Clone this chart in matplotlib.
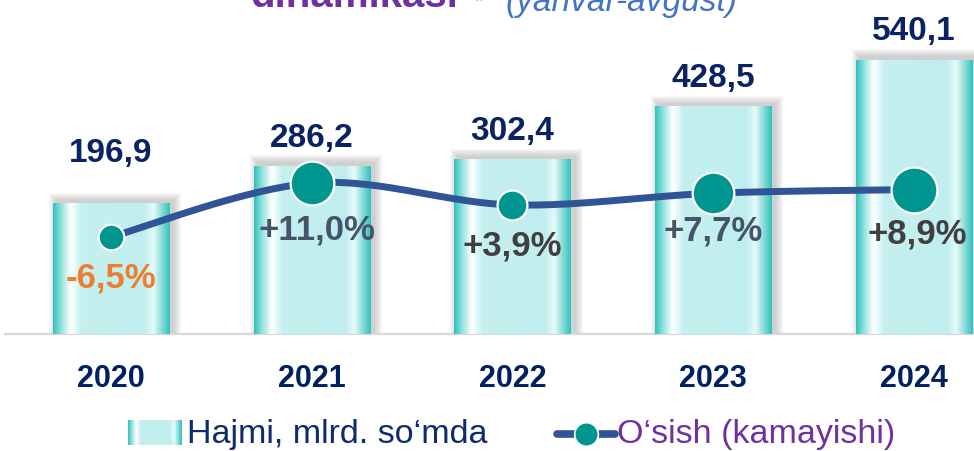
import numpy as np
import matplotlib
matplotlib.use("Agg")
import matplotlib.pyplot as plt
from matplotlib.colors import LinearSegmentedColormap
from matplotlib.patches import Rectangle
from matplotlib.lines import Line2D
from matplotlib.transforms import IdentityTransform

# data
years = ["2020", "2021", "2022", "2023", "2024"]
hajmi = [196.9, 286.2, 302.4, 428.5, 540.1]          # mlrd. so'm
hajmi_labels = ["196,9", "286,2", "302,4", "428,5", "540,1"]
osish = [-6.5, 11.0, 3.9, 7.7, 8.9]                  # %
osish_labels = ["-6,5%", "+11,0%", "+3,9%", "+7,7%", "+8,9%"]

# styles
marker_sizes = [18.5, 31.5, 21.5, 30, 33]
pct_colors = ["#ED7D31", "#44546A", "#404040", "#44546A", "#404040"]
pct_offsets = [29, 33, 29, 26.5, 31]
pct_dx = [0, 4, 0, 0, 2]
val_offsets = [37, 21, 21, 21, 21]
NAVY = "#0B2263"
TEAL = "#00968F"
LINE = "#2F5597"
PURPLE = "#7030A0"

plt.rcParams["font.family"] = ["Liberation Sans", "DejaVu Sans"]

W, H = 974, 452
fig = plt.figure(figsize=(W / 100, H / 100), dpi=100)
ax = fig.add_axes([5 / W, 117 / H, 969 / W, 335 / H])
ax2 = ax.twinx()

x = np.arange(len(years))
bw = 0.58
ymin = -114
ax.set_xlim(-0.528, 4.299)
ax.set_ylim(ymin, 686)
ax2.set_ylim(-38.1, 70.9)

grad_cmap = LinearSegmentedColormap.from_list("bar", [
    (0.00, "#2EC2BE"), (0.06, "#86DEDB"), (0.15, "#FFFFFF"), (0.24, "#C6F0F0"),
    (0.78, "#C0EEEE"), (0.86, "#E6FAFA"), (0.94, "#7ED8D5"), (1.00, "#30C2BE")])
grad = np.linspace(0, 1, 256)[None, :]

# bars: shadow + gradient fill
for i, v in zip(x, hajmi):
    px0, py0 = ax.transData.transform((i - bw / 2, ymin))
    px1, py1 = ax.transData.transform((i + bw / 2, v))
    for r in range(1, 9):
        ax.add_patch(Rectangle((px0 + 4 - r, py0 - r), px1 - px0 + 2 * r, py1 - py0 + 3 + 2 * r,
                               transform=IdentityTransform(), fc="#7F7F7F", alpha=0.05,
                               lw=0, zorder=2))
    ax.imshow(grad, extent=(i - bw / 2, i + bw / 2, ymin, v), aspect="auto",
              cmap=grad_cmap, interpolation="bilinear", zorder=3)

for i, v, lab, off in zip(x, hajmi, hajmi_labels, val_offsets):
    ax.annotate(lab, (i, v), xytext=(0, off), textcoords="offset points",
                ha="center", va="center", fontsize=24, fontweight="bold", color=NAVY)

ax.set_xlim(-0.528, 4.299)
ax.set_ylim(ymin, 686)


# smoothed line (Catmull-Rom through the points)
def smooth(xs, ys, n=40):
    pts = np.column_stack([xs, ys]).astype(float)
    pad = np.vstack([pts[0], pts, pts[-1]])
    t = np.linspace(0, 1, n)[:, None]
    segs = []
    for k in range(len(pts) - 1):
        p0, p1, p2, p3 = pad[k:k + 4]
        segs.append(0.5 * (2 * p1 + (p2 - p0) * t + (2 * p0 - 5 * p1 + 4 * p2 - p3) * t ** 2
                           + (3 * p1 - p0 - 3 * p2 + p3) * t ** 3))
    c = np.vstack(segs)
    return c[:, 0], c[:, 1]


sx, sy = smooth(x, osish)
ax2.plot(sx, sy, color=LINE, lw=5, solid_capstyle="round", zorder=4)
for i, o, ms in zip(x, osish, marker_sizes):
    ax2.plot(i, o, "o", ms=ms, mfc=TEAL, mec="white", mew=1.6, zorder=5)
for i, o, lab, c, off, dx in zip(x, osish, osish_labels, pct_colors, pct_offsets, pct_dx):
    ax2.annotate(lab, (i, o), xytext=(dx, -off), textcoords="offset points",
                 ha="center", va="center", fontsize=25, fontweight="bold", color=c)

# axes styling
ax.set_xticks(x, years)
ax.tick_params(axis="x", length=0, pad=21, labelsize=22, labelcolor="#002060")
for t in ax.get_xticklabels():
    t.set_fontweight("bold")
ax.set_yticks([])
ax2.set_yticks([])
for s in ["left", "right", "top"]:
    ax.spines[s].set_visible(False)
for s in ax2.spines.values():
    s.set_visible(False)
ax.spines["bottom"].set_color("#D9D9D9")
ax.spines["bottom"].set_linewidth(1.6)

# title (cut off at the top, as in the source slide)
fig.text(250 / W, 1 - 7 / H, "dinamikasi", fontsize=29, fontweight="bold",
         color=PURPLE, ha="left", va="baseline")
fig.text(475 / W, 1 - 7 / H, "*", fontsize=16, color="#4472C4", ha="left", va="baseline")
fig.text(505 / W, 1 - 11 / H, "(yanvar-avgust)", fontsize=24, style="italic",
         color="#4472C4", ha="left", va="baseline")

# legend
lax = fig.add_axes([128 / W, 1 - 446 / H, 54 / W, 25 / H])
lax.imshow(grad, aspect="auto", cmap=grad_cmap, interpolation="bilinear")
lax.axis("off")
fig.text(187 / W, 1 - 435 / H, "Hajmi, mlrd. so\u2018mda", fontsize=24.5,
         color="#0E2C6B", ha="left", va="center")
fig.add_artist(Line2D([557 / W, 615 / W], [1 - 435 / H, 1 - 435 / H], color=LINE, lw=5.5,
                      solid_capstyle="round"))
fig.add_artist(Line2D([586 / W], [1 - 435 / H], marker="o", ms=17, mfc=TEAL,
                      mec="white", mew=1.2))
fig.text(617 / W, 1 - 435 / H, "O\u2018sish (kamayishi)", fontsize=24.5,
         color=PURPLE, ha="left", va="center")

fig.savefig("out.png", dpi=100)
